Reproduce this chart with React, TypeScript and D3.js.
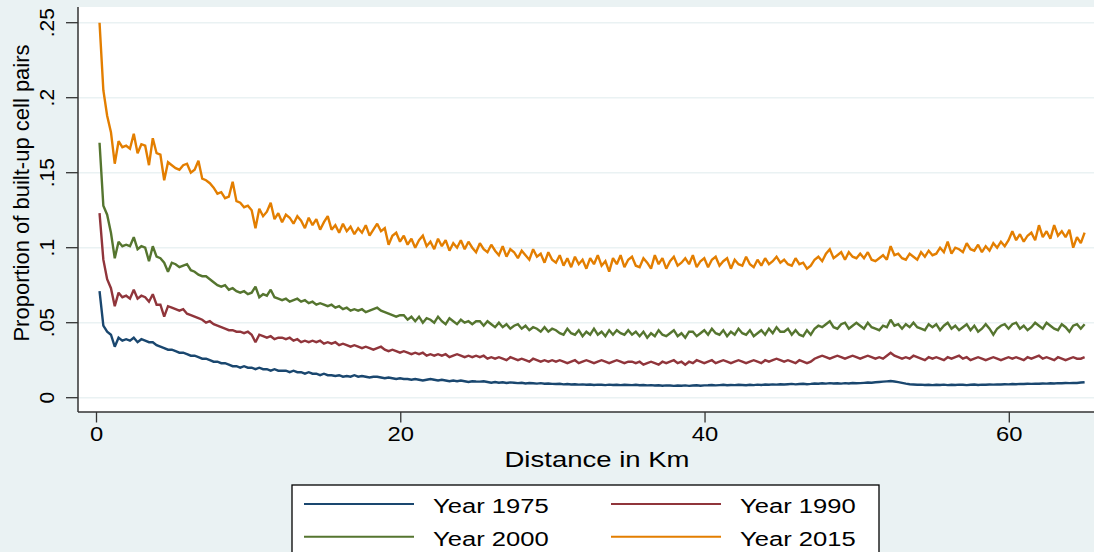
import React from "react";
import * as d3 from "d3";

// Distance grid (km) on which the shares are recorded
const DIST_START = 0.2;
const DIST_STEP = 0.25;

const Y_TICKS = [0, 0.05, 0.1, 0.15, 0.2, 0.25];
const Y_TICK_LABELS = ["0", ".05", ".1", ".15", ".2", ".25"];
const X_TICKS = [0, 20, 40, 60];
const X_TICK_LABELS = ["0", "20", "40", "60"];

const SERIES_NAMES = ["Year 1975", "Year 1990", "Year 2000", "Year 2015"];
const SERIES_COLORS = ["#1a476f", "#90353b", "#55752f", "#e37e00"];

// Proportion of built-up cell pairs by distance, 1975
const year1975 = [
  .071, .048, .044, .042, .034, .040, .038, .039, .038, .040, .037, .039, .038, .037, .037, .035, .034, .033, .032, .032,
  .031, .030, .030, .029, .028, .028, .027, .026, .026, .025, .024, .024, .023, .023, .022, .021, .021, .020, .021, .020,
  .020, .019, .020, .019, .019, .018, .019, .018, .018, .018, .017, .018, .017, .017, .016, .017, .016, .016, .015, .016,
  .015, .015, .0145, .015, .014, .0145, .014, .015, .014, .0145, .014, .0135, .014, .014, .0135, .013, .0135, .013, .0125, .013,
  .0125, .0125, .012, .0125, .012, .0115, .012, .0125, .012, .0115, .012, .0115, .011, .0115, .011, .0115, .011, .0105, .011, .0108,
  .0107, .011, .0105, .010, .0105, .010, .0103, .0098, .0102, .010, .0097, .0100, .0095, .0098, .0096, .0094, .0097, .0093, .0095, .0092,
  .0091, .0093, .0089, .0091, .0088, .0090, .0087, .0089, .0086, .0088, .0085, .0087, .0086, .0084, .0087, .0085, .0086, .0084, .0086, .0085,
  .0084, .0086, .0083, .0085, .0082, .0084, .0081, .0083, .0080, .0082, .0081, .0079, .0081, .0080, .0082, .0079, .0081, .0083, .0080, .0082,
  .0083, .0085, .0082, .0084, .0086, .0083, .0085, .0084, .0086, .0085, .0083, .0086, .0084, .0087, .0085, .0088, .0086, .0089, .0087, .0090,
  .0088, .0090, .0092, .0089, .0091, .0093, .0090, .0092, .0095, .0093, .0096, .0094, .0097, .0095, .0096, .0094, .0097, .0095, .0098, .0096,
  .0097, .0099, .0101, .0100, .0103, .0105, .0107, .0109, .0111, .0108, .0104, .0099, .0094, .0090, .0088, .0086, .0087, .0085, .0086, .0084,
  .0086, .0085, .0087, .0084, .0086, .0085, .0087, .0086, .0084, .0086, .0088, .0085, .0087, .0086, .0088, .0087, .0089, .0088, .0090, .0089,
  .0091, .0090, .0092, .0091, .0093, .0092, .0094, .0093, .0095, .0094, .0096, .0095, .0097, .0096, .0098, .0097, .0099, .0098, .0101, .0103,
];

// 1990
const year1990 = [
  .123, .092, .079, .073, .061, .070, .067, .068, .066, .072, .066, .068, .067, .064, .069, .062, .062, .054, .061, .060,
  .059, .058, .059, .056, .055, .054, .053, .052, .050, .051, .049, .048, .047, .046, .045, .045, .044, .044, .043, .044,
  .042, .037, .042, .041, .040, .041, .039, .040, .040, .039, .040, .038, .039, .037, .038, .037, .038, .037, .038, .036,
  .037, .036, .037, .035, .036, .035, .034, .035, .034, .033, .034, .033, .032, .033, .034, .032, .031, .032, .031, .030,
  .031, .030, .029, .030, .029, .030, .028, .029, .028, .029, .028, .029, .027, .028, .029, .028, .027, .028, .027, .028,
  .027, .028, .026, .027, .026, .027, .026, .025, .027, .026, .025, .026, .025, .024, .026, .025, .024, .025, .024, .025,
  .024, .025, .024, .023, .024, .025, .023, .024, .025, .024, .023, .024, .025, .024, .023, .024, .025, .024, .023, .024,
  .024, .023, .024, .022, .023, .024, .023, .022, .024, .023, .024, .025, .023, .024, .022, .024, .023, .025, .024, .023,
  .024, .025, .023, .024, .025, .024, .023, .024, .025, .024, .023, .024, .025, .024, .023, .025, .024, .025, .026, .025,
  .024, .025, .024, .023, .025, .024, .023, .024, .026, .027, .028, .027, .026, .027, .028, .027, .026, .027, .028, .027,
  .026, .027, .028, .027, .026, .027, .026, .028, .030, .028, .027, .026, .027, .026, .028, .027, .026, .025, .027, .026,
  .027, .026, .025, .027, .026, .027, .028, .026, .027, .025, .026, .027, .026, .025, .026, .027, .026, .025, .026, .027,
  .026, .027, .026, .025, .027, .026, .027, .028, .026, .027, .026, .025, .027, .026, .025, .026, .027, .026, .026, .027,
];

// 2000
const year2000 = [
  .170, .128, .122, .110, .093, .104, .101, .102, .101, .107, .099, .101, .100, .091, .101, .094, .093, .090, .084, .090,
  .089, .087, .088, .089, .085, .084, .082, .081, .081, .079, .077, .075, .074, .075, .072, .073, .071, .070, .071, .069,
  .070, .074, .067, .069, .068, .072, .067, .066, .065, .066, .064, .065, .066, .064, .065, .063, .064, .062, .063, .062,
  .061, .062, .060, .061, .059, .060, .058, .059, .058, .059, .057, .058, .059, .060, .058, .057, .056, .055, .054, .055,
  .055, .052, .054, .051, .054, .050, .053, .052, .050, .054, .051, .049, .053, .051, .049, .052, .050, .051, .049, .051,
  .051, .048, .051, .049, .047, .050, .047, .049, .046, .048, .049, .046, .048, .045, .047, .046, .044, .047, .044, .046,
  .045, .043, .042, .046, .043, .042, .045, .041, .044, .042, .046, .042, .044, .041, .045, .042, .045, .043, .042, .045,
  .042, .044, .041, .044, .040, .043, .041, .045, .042, .041, .043, .045, .041, .043, .040, .044, .044, .041, .043, .045,
  .042, .046, .043, .042, .045, .041, .044, .042, .046, .043, .042, .045, .041, .043, .045, .042, .046, .043, .047, .044,
  .044, .046, .042, .045, .042, .041, .045, .042, .046, .048, .047, .049, .051, .047, .046, .049, .050, .046, .048, .050,
  .048, .046, .050, .047, .046, .045, .048, .047, .052, .048, .049, .046, .049, .047, .050, .047, .046, .045, .049, .047,
  .049, .045, .048, .050, .046, .048, .045, .047, .049, .045, .048, .044, .046, .049, .046, .042, .046, .048, .049, .046,
  .049, .050, .046, .048, .045, .047, .050, .048, .046, .050, .048, .046, .045, .049, .047, .044, .048, .049, .046, .049,
];

// 2015
const year2015 = [
  .250, .205, .188, .177, .156, .171, .167, .168, .166, .176, .163, .169, .168, .155, .173, .163, .162, .145, .157, .155,
  .153, .152, .155, .156, .150, .152, .158, .146, .145, .143, .140, .136, .137, .133, .134, .144, .131, .130, .127, .128,
  .125, .113, .126, .121, .124, .130, .119, .123, .117, .122, .120, .116, .121, .118, .113, .120, .115, .119, .112, .117,
  .121, .112, .115, .110, .116, .111, .114, .109, .113, .110, .115, .108, .112, .116, .111, .113, .102, .108, .110, .104,
  .108, .102, .106, .100, .105, .108, .101, .104, .099, .106, .101, .105, .098, .103, .100, .105, .099, .104, .100, .097,
  .103, .099, .097, .102, .098, .095, .101, .094, .099, .097, .093, .098, .095, .092, .099, .094, .096, .090, .097, .092,
  .090, .095, .088, .093, .087, .094, .089, .092, .086, .093, .089, .095, .088, .091, .084, .093, .089, .095, .087, .092,
  .094, .088, .087, .093, .090, .086, .095, .089, .093, .086, .091, .094, .088, .090, .093, .089, .095, .087, .091, .093,
  .087, .092, .094, .088, .091, .093, .086, .092, .089, .088, .094, .089, .087, .092, .088, .093, .089, .091, .094, .090,
  .092, .089, .088, .093, .089, .090, .086, .088, .092, .094, .091, .096, .099, .093, .095, .097, .092, .097, .094, .093,
  .096, .093, .097, .092, .091, .093, .095, .092, .101, .095, .096, .093, .092, .096, .094, .092, .097, .094, .098, .095,
  .096, .100, .097, .104, .096, .100, .099, .097, .103, .099, .098, .102, .097, .101, .098, .103, .100, .104, .101, .105,
  .111, .105, .109, .104, .108, .110, .105, .115, .107, .111, .106, .115, .108, .111, .107, .112, .100, .107, .103, .110,
];

const SERIES = [year1975, year1990, year2000, year2015];

const W = 1094;
const H = 552;
const BG = "#eaf2f3";
const FONT = "'Liberation Sans', Arial, Helvetica, sans-serif";

// plot frame
const PLOT_LEFT = 78;
const PLOT_TOP = 7;
const PLOT_BOTTOM = 412;

const x = d3.scaleLinear().domain([0, 60]).range([96.5, 1009.3]);
const y = d3.scaleLinear().domain([0, 0.25]).range([397.7, 22.7]);

const line = d3
  .line<number>()
  .x((_, i) => x(DIST_START + i * DIST_STEP))
  .y((v) => y(v));

// horizontally widened text, matching the wide face used in the graph
function WideText(props: {
  x: number;
  y: number;
  size: number;
  sx: number;
  anchor?: string;
  children: React.ReactNode;
}) {
  return (
    <g transform={`translate(${props.x},${props.y}) scale(${props.sx},1)`}>
      <text
        x={0}
        y={0}
        fontSize={props.size}
        fontFamily={FONT}
        textAnchor={props.anchor || "start"}
        fill="#000"
      >
        {props.children}
      </text>
    </g>
  );
}

export default function App() {
  const legendRows = [
    [0, 1],
    [2, 3],
  ];
  const legendRowY = [504, 536.7];
  const legendColX = [304, 611];

  return (
    <svg
      width={W}
      height={H}
      style={{ position: "absolute", left: 0, top: 0, display: "block" }}
    >
      <rect x={0} y={0} width={W} height={H} fill={BG} />
      <rect
        x={PLOT_LEFT}
        y={PLOT_TOP}
        width={W - PLOT_LEFT + 20}
        height={PLOT_BOTTOM - PLOT_TOP}
        fill="#ffffff"
      />

      {/* horizontal grid */}
      {Y_TICKS.map((t) => (
        <line
          key={"g" + t}
          x1={PLOT_LEFT}
          x2={W}
          y1={y(t)}
          y2={y(t)}
          stroke={BG}
          strokeWidth={1.6}
        />
      ))}

      {/* series */}
      {SERIES.map((s, k) => (
        <path
          key={SERIES_NAMES[k]}
          d={line(s) || ""}
          fill="none"
          stroke={SERIES_COLORS[k]}
          strokeWidth={2.4}
          strokeLinejoin="miter"
          strokeMiterlimit={2}
        />
      ))}

      {/* axes */}
      <line
        x1={PLOT_LEFT}
        x2={PLOT_LEFT}
        y1={PLOT_TOP}
        y2={PLOT_BOTTOM}
        stroke="#333"
        strokeWidth={1.5}
      />
      <line
        x1={PLOT_LEFT}
        x2={W}
        y1={PLOT_BOTTOM}
        y2={PLOT_BOTTOM}
        stroke="#333"
        strokeWidth={1.5}
      />

      {Y_TICKS.map((t, i) => (
        <g key={"yt" + t}>
          <line
            x1={66}
            x2={PLOT_LEFT}
            y1={y(t)}
            y2={y(t)}
            stroke="#333"
            strokeWidth={1.3}
          />
          <text
            transform={`translate(54,${y(t)}) rotate(-90)`}
            fontSize={21}
            fontFamily={FONT}
            textAnchor="middle"
            fill="#000"
          >
            {Y_TICK_LABELS[i]}
          </text>
        </g>
      ))}

      {X_TICKS.map((t, i) => (
        <g key={"xt" + t}>
          <line
            x1={x(t)}
            x2={x(t)}
            y1={PLOT_BOTTOM}
            y2={PLOT_BOTTOM + 10.5}
            stroke="#333"
            strokeWidth={1.3}
          />
          <WideText x={x(t)} y={440.7} size={19.5} sx={1.22} anchor="middle">
            {X_TICK_LABELS[i]}
          </WideText>
        </g>
      ))}

      <WideText x={597} y={467.3} size={21.5} sx={1.28} anchor="middle">
        Distance in Km
      </WideText>

      <text
        transform="translate(28.5,193) rotate(-90)"
        fontSize={22}
        fontFamily={FONT}
        textAnchor="middle"
        fill="#000"
      >
        Proportion of built-up cell pairs
      </text>

      {/* legend */}
      <rect
        x={292}
        y={485}
        width={587}
        height={100}
        fill="#ffffff"
        stroke="#000"
        strokeWidth={1.3}
      />
      {legendRows.map((row, r) =>
        row.map((k, c) => (
          <g key={"lg" + k}>
            <line
              x1={legendColX[c]}
              x2={legendColX[c] + 110}
              y1={legendRowY[r]}
              y2={legendRowY[r]}
              stroke={SERIES_COLORS[k]}
              strokeWidth={2}
            />
            <WideText
              x={legendColX[c] + 129}
              y={legendRowY[r] + 8.8}
              size={20}
              sx={1.28}
            >
              {SERIES_NAMES[k]}
            </WideText>
          </g>
        ))
      )}
    </svg>
  );
}
